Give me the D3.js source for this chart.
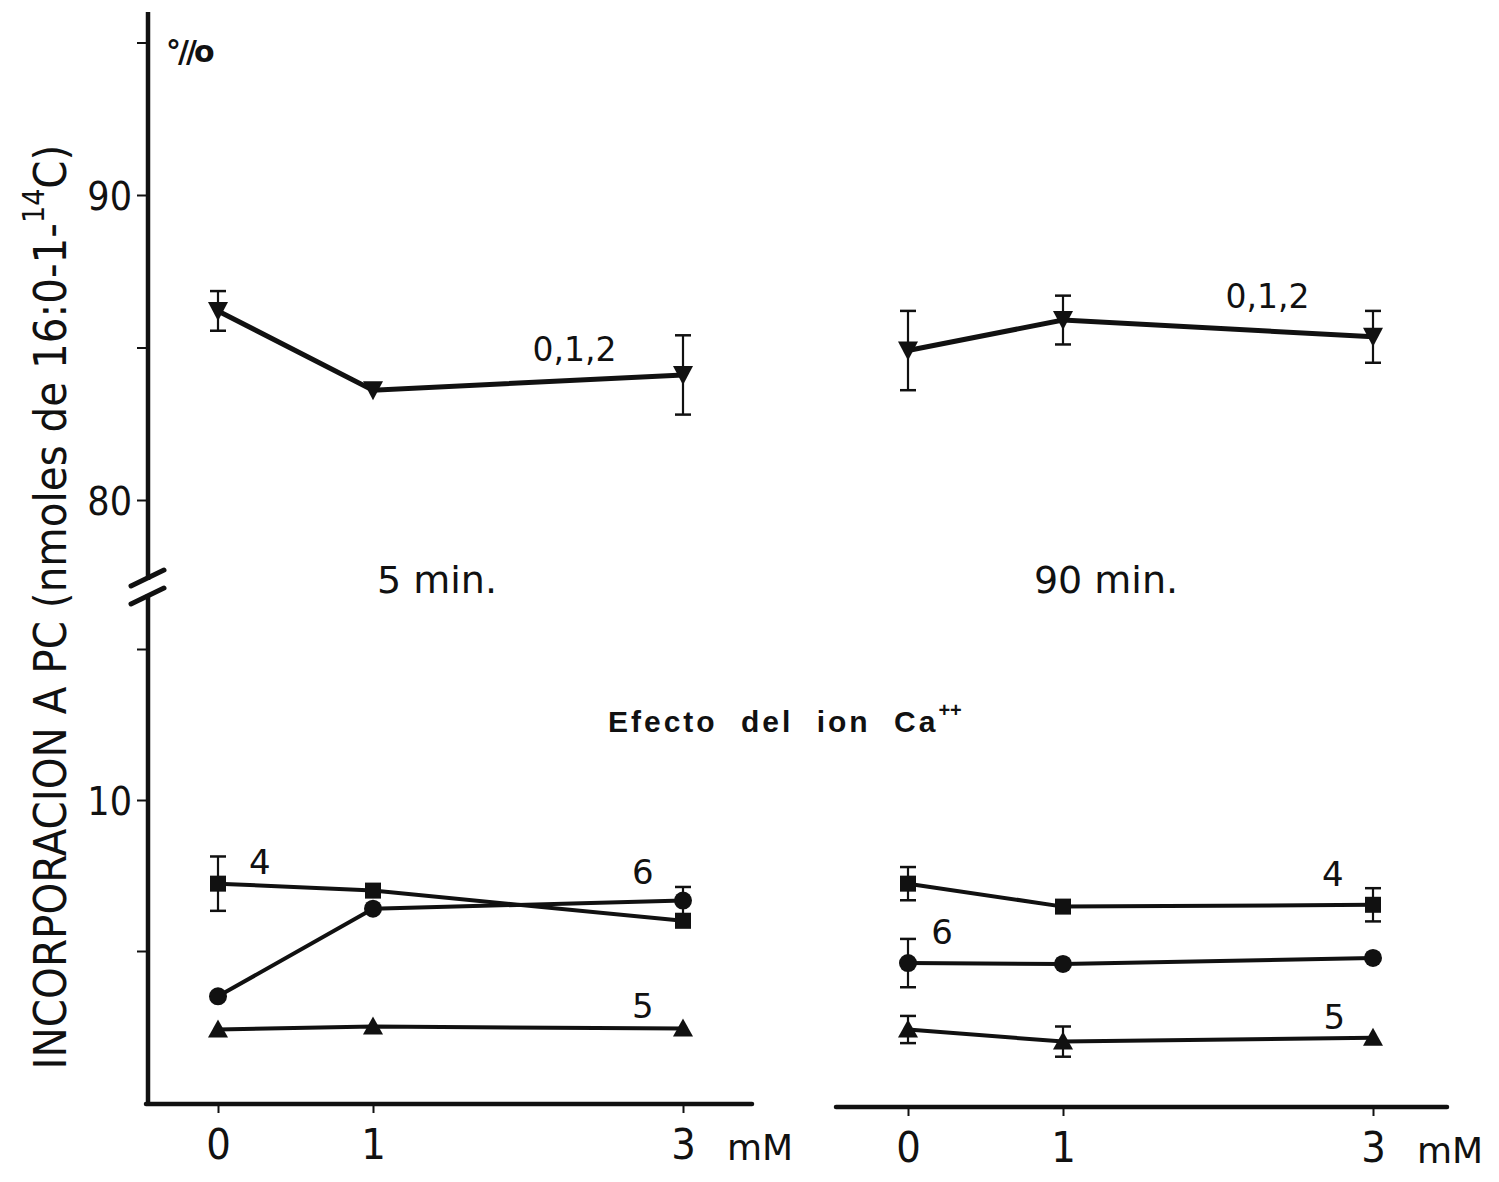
<!DOCTYPE html>
<html>
<head>
<meta charset="utf-8">
<script src="https://cdn.jsdelivr.net/npm/d3@7"></script>
<style>
  body { margin: 0; background: #fff; }
  svg { display: block; }
  text { font-family: "DejaVu Sans", "Liberation Sans", sans-serif; fill: #111; }
</style>
</head>
<body>
<script>
// ---- data ----
var doses = [0, 1, 3];
var panels = ['5 min.', '90 min.'];

// upper block (series 0,1,2)
var pc012_5   = [86.2, 83.6, 84.1];
var pc012_5e  = [0.65, 0, 1.3];
var pc012_90  = [84.9, 85.9, 85.35];
var pc012_90e = [1.3, 0.8, 0.85];

// lower block
var s4_5  = [7.23, 7.0, 6.0];   var s4_5e  = [0.9, 0, 0];
var s6_5  = [3.5, 6.4, 6.67];   var s6_5e  = [0, 0, 0.45];
var s5_5  = [2.4, 2.5, 2.43];   var s5_5e  = [0, 0, 0];
var s4_90 = [7.23, 6.47, 6.53]; var s4_90e = [0.55, 0, 0.55];
var s6_90 = [4.6, 4.57, 4.77];  var s6_90e = [0.8, 0, 0];
var s5_90 = [2.4, 2.0, 2.13];   var s5_90e = [0.45, 0.5, 0];

var upperTicks = [95, 90, 85, 80];
var upperLabels = [90, 80];
var lowerTicks = [15, 10, 5];
var lowerLabels = [10];

// ---- layout ----
var W = 1499, H = 1182;
var narrow = 'Liberation Sans Narrow, DejaVu Sans Condensed, sans-serif';
var svg = d3.select('body').append('svg').attr('width', W).attr('height', H);

var yUp = d3.scaleLinear().domain([80, 90]).range([500, 195]);
var yLo = d3.scaleLinear().domain([0, 10]).range([1102, 800]);
var xL = d3.scaleLinear().domain([0, 1]).range([218, 373]);
var xR = d3.scaleLinear().domain([0, 1]).range([908, 1063]);

var axisX = 148;

// y axis lines (broken)
svg.append('line').attr('x1', axisX).attr('x2', axisX).attr('y1', 12).attr('y2', 580)
  .attr('stroke', '#111').attr('stroke-width', 4.5);
svg.append('line').attr('x1', axisX).attr('x2', axisX).attr('y1', 594).attr('y2', 1106)
  .attr('stroke', '#111').attr('stroke-width', 4.5);
// break marks
[578, 596].forEach(function (y) {
  svg.append('line').attr('x1', axisX - 17).attr('x2', axisX + 16)
    .attr('y1', y + 8).attr('y2', y - 8)
    .attr('stroke', '#111').attr('stroke-width', 5).attr('stroke-linecap', 'round');
});

// y axes via d3
var gUp = svg.append('g').attr('transform', 'translate(' + axisX + ',0)')
  .call(d3.axisLeft(yUp).tickValues(upperTicks).tickSize(11).tickPadding(5)
    .tickFormat(function (d) { return upperLabels.indexOf(d) >= 0 ? d : ''; }));
var gLo = svg.append('g').attr('transform', 'translate(' + axisX + ',0)')
  .call(d3.axisLeft(yLo).tickValues(lowerTicks).tickSize(11).tickPadding(5)
    .tickFormat(function (d) { return lowerLabels.indexOf(d) >= 0 ? d : ''; }));
[gUp, gLo].forEach(function (g) {
  g.select('.domain').remove();
  g.selectAll('.tick line').attr('stroke', '#111').attr('stroke-width', 2);
  g.selectAll('.tick text').style('font-size', '39px').style('font-family', narrow)
    .attr('dy', '0.36em').attr('fill', '#111');
});

// x axes
function xAxis(scale, x0, x1, y) {
  svg.append('line').attr('x1', x0).attr('x2', x1).attr('y1', y).attr('y2', y)
    .attr('stroke', '#111').attr('stroke-width', 4.5).attr('stroke-linecap', 'round');
  var g = svg.append('g').attr('transform', 'translate(0,' + y + ')')
    .call(d3.axisBottom(scale).tickValues(doses).tickSize(9).tickFormat(d3.format('d')));
  g.select('.domain').remove();
  g.selectAll('.tick line').attr('stroke', '#111').attr('stroke-width', 2);
  g.selectAll('.tick text').style('font-size', '43px').style('font-family', narrow)
    .attr('y', 55).attr('dy', 0).attr('fill', '#111');
  svg.append('text').attr('x', scale(3) + 44).attr('y', y + 56).style('font-size', '36px').text('mM');
}
xAxis(xL, 146, 752, 1104);
xAxis(xR, 836, 1447, 1107);

// markers
function marker(g, shape, x, y) {
  if (shape === 'circle') {
    g.append('circle').attr('cx', x).attr('cy', y).attr('r', 9).attr('fill', '#111');
  } else if (shape === 'square') {
    g.append('rect').attr('x', x - 8).attr('y', y - 8).attr('width', 16).attr('height', 16).attr('fill', '#111');
  } else if (shape === 'tri-down') {
    g.append('path').attr('d', 'M' + (x - 10) + ',' + (y - 9) + 'L' + (x + 10) + ',' + (y - 9) + 'L' + x + ',' + (y + 10) + 'Z').attr('fill', '#111');
  } else {
    g.append('path').attr('d', 'M' + (x - 10) + ',' + (y + 8) + 'L' + (x + 10) + ',' + (y + 8) + 'L' + x + ',' + (y - 10) + 'Z').attr('fill', '#111');
  }
}

function series(xs, ys, vals, errs, shape, width) {
  var g = svg.append('g');
  var pts = doses.map(function (d, i) { return [xs(d), ys(vals[i]), errs[i], vals[i]]; });
  // error bars
  pts.forEach(function (p) {
    if (!p[2]) return;
    var y0 = ys(p[3] + p[2]), y1 = ys(p[3] - p[2]);
    g.append('line').attr('x1', p[0]).attr('x2', p[0]).attr('y1', y0).attr('y2', y1)
      .attr('stroke', '#111').attr('stroke-width', 2.2);
    [y0, y1].forEach(function (yy) {
      g.append('line').attr('x1', p[0] - 8).attr('x2', p[0] + 8).attr('y1', yy).attr('y2', yy)
        .attr('stroke', '#111').attr('stroke-width', 2.5);
    });
  });
  g.append('path').datum(pts)
    .attr('d', d3.line().x(function (p) { return p[0]; }).y(function (p) { return p[1]; }))
    .attr('fill', 'none').attr('stroke', '#111').attr('stroke-width', width);
  pts.forEach(function (p) { marker(g, shape, p[0], p[1]); });
}

series(xL, yUp, pc012_5, pc012_5e, 'tri-down', 5);
series(xR, yUp, pc012_90, pc012_90e, 'tri-down', 5);

series(xL, yLo, s4_5, s4_5e, 'square', 4);
series(xL, yLo, s6_5, s6_5e, 'circle', 4);
series(xL, yLo, s5_5, s5_5e, 'tri-up', 4);
series(xR, yLo, s4_90, s4_90e, 'square', 4);
series(xR, yLo, s6_90, s6_90e, 'circle', 4);
series(xR, yLo, s5_90, s5_90e, 'tri-up', 4);

// series labels
function label(x, y, t, size) {
  svg.append('text').attr('x', x).attr('y', y).style('font-size', (size || 34) + 'px')
    .attr('text-anchor', 'middle').text(t);
}
label(xL(2.3), yUp(84.55), '0,1,2', 33);
label(xR(2.32), yUp(86.3), '0,1,2', 33);
label(xL(0.27), 874, '4');
label(xL(2.74), 884, '6');
label(xL(2.74), 1018, '5');
label(xR(2.74), 886, '4');
label(xR(0.22), 944, '6');
label(xR(2.75), 1029, '5');

// panel titles
label(437, 593, panels[0], 38);
label(1106, 593, panels[1], 38);

// header
var t = svg.append('text').attr('x', 608).attr('y', 732)
  .style('font-size', '30px').style('font-weight', 'bold').style('letter-spacing', '3px')
  .style('word-spacing', '12px')
  .style('font-family', 'Liberation Sans, Arial, sans-serif');
t.append('tspan').text('Efecto del ion Ca');
t.append('tspan').attr('dy', -15).style('font-size', '20px').style('letter-spacing', '0px').text('++');

// percent mark
svg.append('text').attr('x', 166).attr('y', 62).style('font-size', '30px').style('font-weight', 'bold')
  .style('letter-spacing', '-3px').text('°//o');

// y axis title
var yt = svg.append('text')
  .attr('transform', 'translate(66,' + 607 + ') rotate(-90)')
  .attr('text-anchor', 'middle').style('font-size', '45px')
  .style('font-family', narrow);
yt.append('tspan').text('INCORPORACION A PC (nmoles de 16:0-1-');
yt.append('tspan').attr('dy', -22).style('font-size', '30px').text('14');
yt.append('tspan').attr('dy', 22).text('C)');
</script>
</body>
</html>
